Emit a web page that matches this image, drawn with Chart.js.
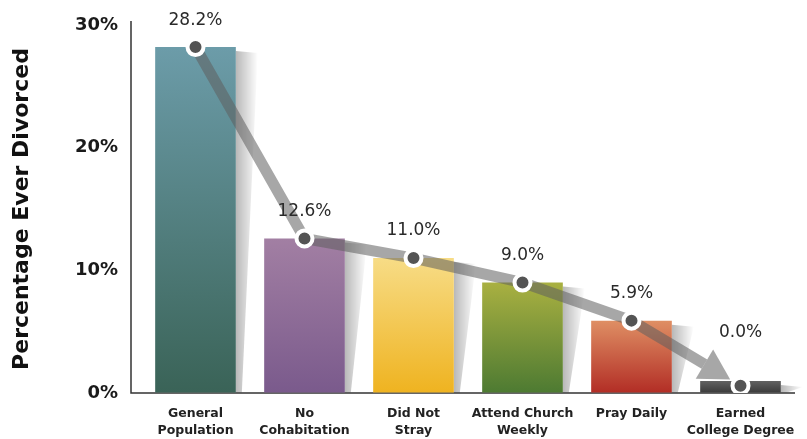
<!DOCTYPE html>
<html>
<head>
<meta charset="utf-8">
<script src="https://cdn.jsdelivr.net/npm/chart.js@4.4.1/dist/chart.umd.min.js"></script>
<style>
  html, body { margin: 0; padding: 0; background: #fff; }
  #wrap { width: 807px; height: 439px; }
</style>
</head>
<body>
<div id="wrap"><canvas id="chart"></canvas></div>
<script>
let categories = [["General", "Population"], ["No", "Cohabitation"], ["Did Not", "Stray"],
                  ["Attend Church", "Weekly"], ["Pray Daily"], ["Earned", "College Degree"]];
let divorcedPct = [28.2, 12.6, 11.0, 9.0, 5.9, 0.0];
// where the markers sit; the last one rides on the little stub bar
let markerPct = [28.2, 12.6, 11.0, 9.0, 5.9, 0.6];
let yTicks = [0, 10, 20, 30];

let barTop = ["#6c9ca9", "#a27fa3", "#f7dc86", "#a9b041", "#df8f64", "#626262"];
let barBottom = ["#3a6357", "#7a5a8c", "#efb320", "#4d7a32", "#b22d25", "#3a3a3a"];

const FONT = '"DejaVu Sans", "Open Sans", sans-serif';
const LINE_COL = 'rgba(95,95,95,0.55)';

function barGradient(ctx) {
  let chart = ctx.chart;
  if (!chart.chartArea || ctx.type !== 'data') return barTop[ctx.dataIndex];
  let y = chart.scales.y;
  let base = y.getPixelForValue(0);
  let top = Math.min(y.getPixelForValue(ctx.raw), base - 12);
  let g = chart.ctx.createLinearGradient(0, top, 0, base);
  g.addColorStop(0, barTop[ctx.dataIndex]);
  g.addColorStop(1, barBottom[ctx.dataIndex]);
  return g;
}

// axis lines and the soft shadow on the right of each bar
let backdrop = {
  id: 'backdrop',
  beforeDatasetsDraw(chart) {
    let c = chart.ctx, a = chart.chartArea;
    c.save();
    chart.getDatasetMeta(0).data.forEach(bar => {
      let r = bar.x + bar.width / 2;
      let g = c.createLinearGradient(r, 0, r + 22, 0);
      g.addColorStop(0, 'rgba(0,0,0,0.28)');
      g.addColorStop(1, 'rgba(0,0,0,0)');
      c.fillStyle = g;
      c.beginPath();
      c.moveTo(r, bar.y + 4);
      c.lineTo(r + 22, bar.y + 6);
      c.lineTo(r + 6, bar.base);
      c.lineTo(r, bar.base);
      c.closePath();
      c.fill();
    });
    c.strokeStyle = '#333';
    c.lineWidth = 1.5;
    c.beginPath();
    c.moveTo(a.left - 10, a.top - 4);
    c.lineTo(a.left - 10, a.bottom);
    c.lineTo(a.right, a.bottom);
    c.stroke();
    c.restore();
  }
};

// last segment of the trend becomes an arrow that stops short of the marker
let arrow = {
  id: 'arrow',
  beforeDatasetDraw(chart, args) {
    if (args.index !== 1) return;
    let pts = chart.getDatasetMeta(1).data;
    let p = pts[pts.length - 2], q = pts[pts.length - 1];
    let dx = q.x - p.x, dy = q.y - p.y, len = Math.hypot(dx, dy);
    let ux = dx / len, uy = dy / len;
    let tipX = q.x - ux * 12, tipY = q.y - uy * 12;
    let headLen = 30, half = 17;
    let bx = tipX - ux * headLen, by = tipY - uy * headLen;
    let c = chart.ctx;
    c.save();
    c.strokeStyle = LINE_COL;
    c.lineWidth = 11;
    c.beginPath();
    c.moveTo(p.x + ux * 6, p.y + uy * 6);
    c.lineTo(bx, by);
    c.stroke();
    c.fillStyle = LINE_COL;
    c.beginPath();
    c.moveTo(tipX, tipY);
    c.lineTo(bx - uy * half, by + ux * half);
    c.lineTo(bx + uy * half, by - ux * half);
    c.closePath();
    c.fill();
    c.restore();
  }
};

let valueLabels = {
  id: 'valueLabels',
  afterDatasetsDraw(chart) {
    let c = chart.ctx;
    let pts = chart.getDatasetMeta(1).data;
    c.save();
    c.font = '17px ' + FONT;
    c.fillStyle = '#2a2a2a';
    c.textAlign = 'center';
    c.textBaseline = 'middle';
    pts.forEach((pt, i) => {
      let lift = i === pts.length - 1 ? 53 : 27;
      c.fillText(divorcedPct[i].toFixed(1) + '%', pt.x, pt.y - lift);
    });
    c.restore();
  }
};

new Chart('chart', {
  data: {
    labels: categories,
    datasets: [{
      type: 'bar',
      data: divorcedPct,
      backgroundColor: barGradient,
      categoryPercentage: 0.74,
      barPercentage: 1,
      minBarLength: 12,
      order: 2
    }, {
      type: 'line',
      data: markerPct,
      borderColor: LINE_COL,
      borderWidth: 11,
      segment: {
        borderColor: s => s.p1DataIndex === markerPct.length - 1 ? 'rgba(0,0,0,0)' : LINE_COL
      },
      pointRadius: 8,
      pointBorderWidth: 4,
      pointBackgroundColor: '#545454',
      pointBorderColor: '#fff',
      tension: 0,
      order: 1
    }]
  },
  options: {
    responsive: true,
    maintainAspectRatio: false,
    animation: false,
    layout: { padding: { top: 25, right: 7, left: 0, bottom: 0 } },
    plugins: { legend: { display: false }, tooltip: { enabled: false } },
    scales: {
      x: {
        grid: { display: false },
        border: { display: false },
        ticks: { color: '#222', font: { family: FONT, size: 12.5, weight: 'bold', lineHeight: 1.35 }, padding: 4, maxRotation: 0, autoSkip: false },
        afterFit: s => { s.height = 46; }
      },
      y: {
        min: 0,
        max: 30,
        afterBuildTicks: s => { s.ticks = yTicks.map(v => ({ value: v })); },
        // invisible tick marks push the labels away from the axis
        grid: { color: 'rgba(0,0,0,0)', drawOnChartArea: false, drawTicks: true, tickLength: 23 },
        border: { display: false },
        ticks: { color: '#1a1a1a', padding: 0, font: { family: FONT, size: 18, weight: 'bold' }, callback: v => v + '%' },
        title: { display: true, text: 'Percentage Ever Divorced', color: '#111', padding: { top: 9, bottom: 0 }, font: { family: FONT, size: 22, weight: 'bold' } },
        afterFit: s => { s.width = 141; }
      }
    }
  },
  plugins: [backdrop, arrow, valueLabels]
});
</script>
</body>
</html>
